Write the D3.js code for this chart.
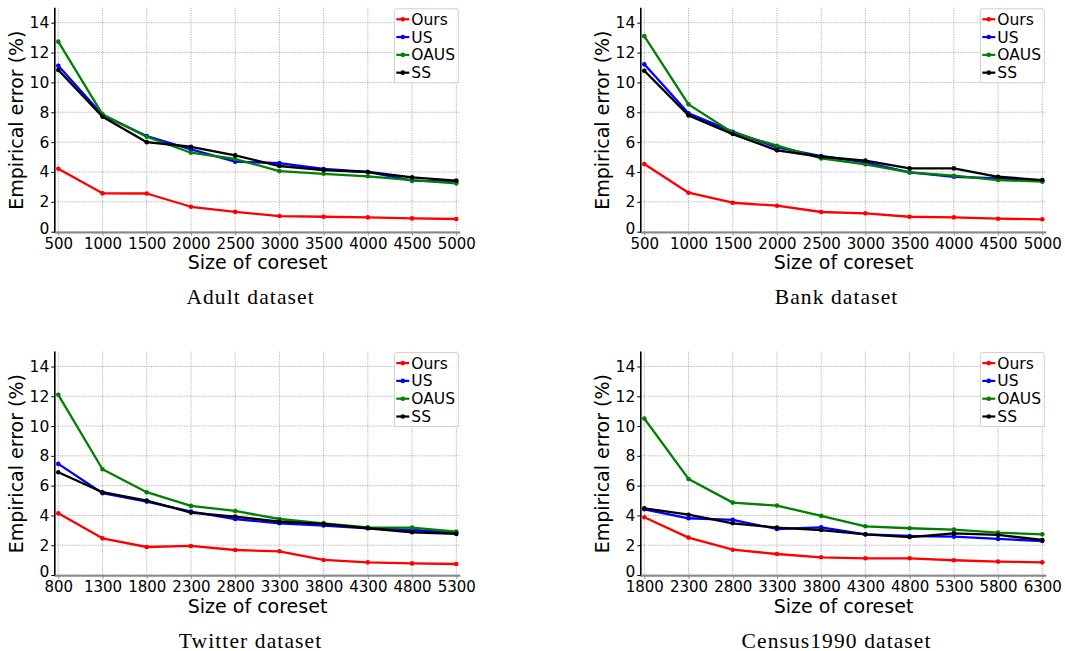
<!DOCTYPE html>
<html>
<head>
<meta charset="utf-8">
<script src="https://cdnjs.cloudflare.com/ajax/libs/d3/7.8.5/d3.min.js"></script>
<style>
  html, body { margin: 0; padding: 0; background: #fff; }
  svg { display: block; }
</style>
</head>
<body>
<svg id="chart" width="1065" height="651"></svg>
<script>
// ---- data ----
const seriesNames = ["Ours", "US", "OAUS", "SS"];
const seriesColors = ["#ff0000", "#0000ff", "#008000", "#000000"];
const yTicks = [0, 2, 4, 6, 8, 10, 12, 14];

const adultSizes = [500, 1000, 1500, 2000, 2500, 3000, 3500, 4000, 4500, 5000];
const adultOurs = [4.22, 2.57, 2.56, 1.67, 1.33, 1.05, 1.0, 0.96, 0.89, 0.85];
const adultUS   = [11.12, 7.81, 6.41, 5.51, 4.69, 4.60, 4.20, 4.00, 3.42, 3.35];
const adultOAUS = [12.73, 7.86, 6.36, 5.29, 4.87, 4.06, 3.88, 3.71, 3.46, 3.24];
const adultSS   = [10.83, 7.70, 6.00, 5.69, 5.11, 4.40, 4.13, 4.00, 3.64, 3.42];

const bankSizes = [500, 1000, 1500, 2000, 2500, 3000, 3500, 4000, 4500, 5000];
const bankOurs = [4.53, 2.61, 1.94, 1.74, 1.32, 1.23, 1.00, 0.96, 0.87, 0.83];
const bankUS   = [11.21, 7.93, 6.70, 5.65, 5.07, 4.64, 3.97, 3.68, 3.57, 3.42];
const bankOAUS = [13.10, 8.53, 6.63, 5.76, 4.91, 4.51, 3.97, 3.75, 3.46, 3.35];
const bankSS   = [10.78, 7.79, 6.54, 5.45, 5.02, 4.76, 4.24, 4.24, 3.68, 3.46];

const twitterSizes = [800, 1300, 1800, 2300, 2800, 3300, 3800, 4300, 4800, 5300];
const twitterOurs = [4.14, 2.46, 1.88, 1.95, 1.68, 1.59, 1.01, 0.85, 0.78, 0.74];
const twitterUS   = [7.46, 5.49, 4.93, 4.26, 3.76, 3.47, 3.32, 3.14, 3.02, 2.84];
const twitterOAUS = [12.10, 7.10, 5.56, 4.64, 4.30, 3.76, 3.47, 3.20, 3.18, 2.91];
const twitterSS   = [6.90, 5.56, 5.00, 4.19, 3.92, 3.58, 3.43, 3.14, 2.87, 2.76];

const censusSizes = [1800, 2300, 2800, 3300, 3800, 4300, 4800, 5300, 5800, 6300];
const censusOurs = [3.88, 2.51, 1.70, 1.41, 1.19, 1.12, 1.12, 0.99, 0.90, 0.85];
const censusUS   = [4.41, 3.81, 3.70, 3.09, 3.20, 2.73, 2.62, 2.58, 2.42, 2.28];
const censusOAUS = [10.51, 6.45, 4.86, 4.66, 3.97, 3.27, 3.14, 3.05, 2.85, 2.73];
const censusSS   = [4.48, 4.05, 3.47, 3.18, 3.02, 2.73, 2.55, 2.80, 2.69, 2.35];

const panelTitles = ["Adult dataset", "Bank dataset", "Twitter dataset", "Census1990 dataset"];
const xLabel = "Size of coreset";
const yLabel = "Empirical error (%)";

// ---- layout ----
const panels = [
  { title: panelTitles[0], sizes: adultSizes, vals: [adultOurs, adultUS, adultOAUS, adultSS], x0: 58.3, x1: 456.3, y0: 231.7, y14: 22.7 },
  { title: panelTitles[1], sizes: bankSizes, vals: [bankOurs, bankUS, bankOAUS, bankSS], x0: 644.3, x1: 1042.3, y0: 231.7, y14: 22.7 },
  { title: panelTitles[2], sizes: twitterSizes, vals: [twitterOurs, twitterUS, twitterOAUS, twitterSS], x0: 58.3, x1: 456.3, y0: 575, y14: 366.5 },
  { title: panelTitles[3], sizes: censusSizes, vals: [censusOurs, censusUS, censusOAUS, censusSS], x0: 644.3, x1: 1042.3, y0: 575, y14: 366.5 }
];

const svg = d3.select("#chart");
const sans = "'DejaVu Sans', sans-serif";

panels.forEach(p => {
  const g = svg.append("g");
  const xs = d3.scaleLinear().domain([p.sizes[0], p.sizes[p.sizes.length - 1]]).range([p.x0, p.x1]);
  const ys = d3.scaleLinear().domain([0, 14]).range([p.y0, p.y14]);
  const left = p.x0 - 3.5, right = p.x1 + 4;
  const top = ys(15), bottom = ys(-0.05);

  // grid
  g.append("g").selectAll("line.hg").data(yTicks).join("line")
    .attr("x1", left).attr("x2", right)
    .attr("y1", d => ys(d)).attr("y2", d => ys(d))
    .attr("stroke", "#a8a8a8").attr("stroke-width", 0.9).attr("stroke-dasharray", "1.2,1.2");
  g.append("g").selectAll("line.vg").data(p.sizes).join("line")
    .attr("x1", d => xs(d)).attr("x2", d => xs(d))
    .attr("y1", top).attr("y2", bottom)
    .attr("stroke", "#a8a8a8").attr("stroke-width", 0.9).attr("stroke-dasharray", "1.2,1.2");

  // axes
  const yAxis = d3.axisLeft(ys).tickValues(yTicks).tickSize(3.5).tickPadding(2).tickFormat(d3.format("d"));
  const ya = g.append("g").attr("transform", `translate(${left},0)`).call(yAxis);
  ya.select(".domain").remove();
  ya.selectAll("text").attr("font-family", sans).attr("font-size", 15.5).attr("fill", "#000");
  ya.selectAll(".tick").filter(d => d === 0).select("text").attr("dy", "0.1em");
  ya.selectAll("line").attr("stroke", "#000").attr("stroke-width", 1);

  const xAxis = d3.axisBottom(xs).tickValues(p.sizes).tickSize(3).tickPadding(2.5).tickFormat(d3.format("d"));
  const xa = g.append("g").attr("transform", `translate(0,${bottom})`).call(xAxis);
  xa.select(".domain").remove();
  xa.selectAll("text").attr("font-family", sans).attr("font-size", 15).attr("fill", "#000");
  xa.selectAll("line").attr("stroke", "#888").attr("stroke-width", 1);

  // spines
  g.append("line").attr("x1", left).attr("x2", left).attr("y1", top).attr("y2", bottom + 0.5)
    .attr("stroke", "#000").attr("stroke-width", 1.6);
  g.append("line").attr("x1", left).attr("x2", right).attr("y1", bottom).attr("y2", bottom)
    .attr("stroke", "#888").attr("stroke-width", 2);

  // series
  const line = d3.line().x(d => xs(d[0])).y(d => ys(d[1]));
  p.vals.forEach((vals, si) => {
    const pts = p.sizes.map((s, i) => [s, vals[i]]);
    g.append("path").datum(pts).attr("d", line)
      .attr("fill", "none").attr("stroke", seriesColors[si]).attr("stroke-width", 2.3)
      .attr("stroke-linejoin", "round");
    g.append("g").selectAll("circle").data(pts).join("circle")
      .attr("cx", d => xs(d[0])).attr("cy", d => ys(d[1])).attr("r", 2.3)
      .attr("fill", seriesColors[si]);
  });

  // legend
  const lx = right - 66, ly = top + 1;
  const lg = g.append("g").attr("transform", `translate(${lx},${ly})`);
  lg.append("rect").attr("x", 0).attr("y", 0).attr("width", 64).attr("height", 74)
    .attr("rx", 2).attr("fill", "#fff").attr("fill-opacity", 0.85)
    .attr("stroke", "#d0d0d0").attr("stroke-width", 1);
  seriesNames.forEach((n, i) => {
    const yy = 10.5 + i * 17.8;
    lg.append("line").attr("x1", 2).attr("x2", 15).attr("y1", yy).attr("y2", yy)
      .attr("stroke", seriesColors[i]).attr("stroke-width", 2.2);
    lg.append("circle").attr("cx", 8.5).attr("cy", yy).attr("r", 2.3).attr("fill", seriesColors[i]);
    lg.append("text").attr("x", 17).attr("y", yy).attr("dy", "0.36em")
      .attr("font-family", sans).attr("font-size", 15.5).attr("fill", "#000").text(n);
  });

  // axis labels
  const cx = (left + right) / 2;
  g.append("text").attr("x", cx).attr("y", p.y0 + 37.5)
    .attr("text-anchor", "middle").attr("font-family", sans).attr("font-size", 19).attr("fill", "#000")
    .text(xLabel);
  g.append("text")
    .attr("transform", `translate(${left - 32},${(top + bottom) / 2}) rotate(-90)`)
    .attr("text-anchor", "middle").attr("font-family", sans).attr("font-size", 19).attr("fill", "#000")
    .text(yLabel);

  // subtitle
  g.append("text").attr("x", cx - 7).attr("y", p.y0 + 72.5)
    .attr("text-anchor", "middle").attr("font-family", "'Liberation Serif', serif")
    .attr("font-size", 21.5).attr("letter-spacing", 1.1).attr("fill", "#000")
    .text(p.title);
});
</script>
</body>
</html>
